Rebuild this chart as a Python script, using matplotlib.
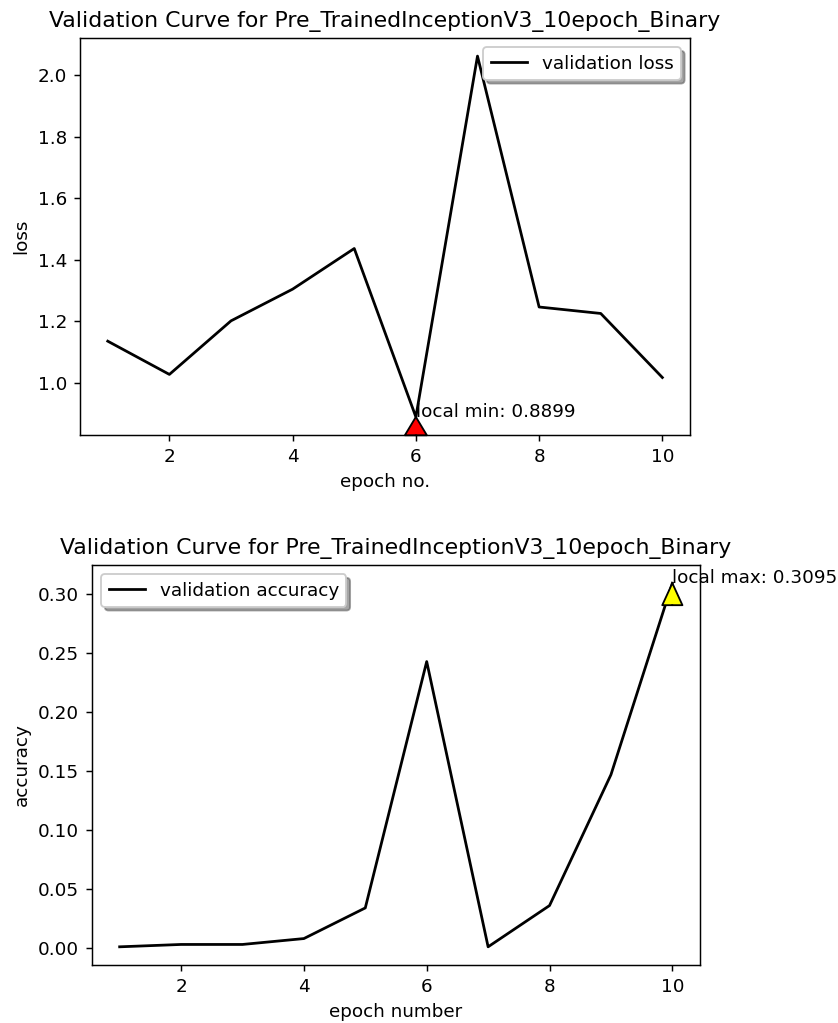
import matplotlib
matplotlib.use("Agg")
import matplotlib.pyplot as plt

epochs = [1, 2, 3, 4, 5, 6, 7, 8, 9, 10]
val_loss = [1.136, 1.028, 1.202, 1.305, 1.437, 0.8899, 2.062, 1.247, 1.226, 1.018]
val_acc = [0.001, 0.003, 0.003, 0.008, 0.034, 0.243, 0.001, 0.036, 0.147, 0.3095]

title = "Validation Curve for Pre_TrainedInceptionV3_10epoch_Binary"

DPI = 132
fig = plt.figure(figsize=(838 / DPI, 1023 / DPI), dpi=DPI)

# top panel: loss
ax1 = fig.add_axes([0.0955, 0.5748, 0.728, 0.388])
ax1.plot(epochs, val_loss, color="k", lw=1.5, label="validation loss")
ax1.set_title(title, fontsize=12)
ax1.set_xlabel("epoch no.")
ax1.set_ylabel("loss")
ax1.legend(loc="upper right", shadow=True, fancybox=True)
i_min = val_loss.index(min(val_loss))
ax1.annotate("", xy=(epochs[i_min], val_loss[i_min]), xytext=(0, -10), textcoords="offset points",
             arrowprops=dict(facecolor="red", edgecolor="black", width=0.01,
                             headwidth=12, headlength=10, shrink=0))
ax1.text(epochs[i_min], val_loss[i_min], "local min: %.4f" % val_loss[i_min])

# bottom panel: accuracy
ax2 = fig.add_axes([0.1098, 0.0567, 0.7255, 0.391])
ax2.plot(epochs, val_acc, color="k", lw=1.5, label="validation accuracy")
ax2.set_title(title, fontsize=12)
ax2.set_xlabel("epoch number")
ax2.set_ylabel("accuracy")
ax2.legend(loc="upper left", shadow=True, fancybox=True)
i_max = val_acc.index(max(val_acc))
ax2.annotate("", xy=(epochs[i_max], val_acc[i_max]), xytext=(0, -12), textcoords="offset points",
             arrowprops=dict(facecolor="yellow", edgecolor="black", width=0.01,
                             headwidth=11, headlength=12, shrink=0))
ax2.text(epochs[i_max], val_acc[i_max], "local max: %.4f" % val_acc[i_max])

for ax in (ax1, ax2):
    ax.set_xticks([2, 4, 6, 8, 10])

fig.savefig("out.png", dpi=DPI)
